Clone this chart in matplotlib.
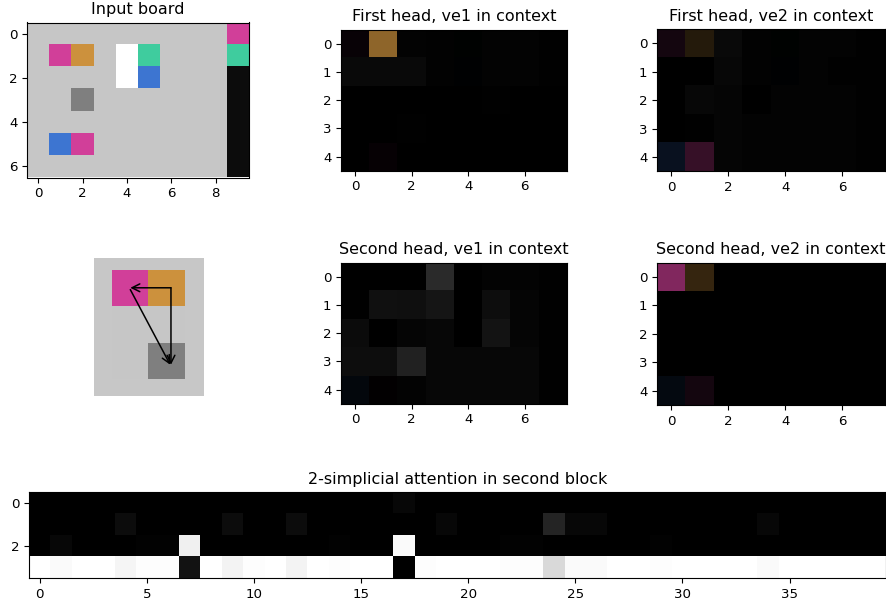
import matplotlib
matplotlib.use("Agg")
import matplotlib.pyplot as plt
import numpy as np

# board colours (index -> rgb)
palette = [
    (0.78, 0.78, 0.78),  # 0 background
    (0.82, 0.25, 0.60),  # 1 pink
    (0.80, 0.57, 0.24),  # 2 orange
    (0.25, 0.80, 0.62),  # 3 teal
    (0.24, 0.46, 0.82),  # 4 blue
    (0.50, 0.50, 0.50),  # 5 gray
    (1.00, 1.00, 1.00),  # 6 white
    (0.05, 0.05, 0.05),  # 7 black
]

board = [
    [0, 0, 0, 0, 0, 0, 0, 0, 0, 1],
    [0, 1, 2, 0, 6, 3, 0, 0, 0, 3],
    [0, 0, 0, 0, 6, 4, 0, 0, 0, 7],
    [0, 0, 5, 0, 0, 0, 0, 0, 0, 7],
    [0, 0, 0, 0, 0, 0, 0, 0, 0, 7],
    [0, 4, 1, 0, 0, 0, 0, 0, 0, 7],
    [0, 0, 0, 0, 0, 0, 0, 0, 0, 7],
]

# attention weights over board rows 1-5, cols 1-8
head1_ve1 = [
    [0.04, 0.70, 0.02, 0.01, 0.01, 0.02, 0.02, 0.01],
    [0.05, 0.05, 0.05, 0.01, 0.01, 0.02, 0.02, 0.01],
    [0.00, 0.00, 0.00, 0.00, 0.00, 0.01, 0.00, 0.00],
    [0.00, 0.00, 0.01, 0.00, 0.00, 0.00, 0.00, 0.00],
    [0.00, 0.03, 0.00, 0.00, 0.00, 0.00, 0.00, 0.00],
]
head1_ve2 = [
    [0.10, 0.18, 0.05, 0.01, 0.01, 0.02, 0.02, 0.01],
    [0.00, 0.00, 0.04, 0.01, 0.01, 0.02, 0.01, 0.01],
    [0.00, 0.06, 0.03, 0.00, 0.02, 0.02, 0.02, 0.01],
    [0.00, 0.01, 0.03, 0.02, 0.02, 0.02, 0.02, 0.01],
    [0.15, 0.26, 0.03, 0.02, 0.02, 0.02, 0.02, 0.01],
]
head2_ve1 = [
    [0.00, 0.00, 0.00, 0.165, 0.00, 0.02, 0.02, 0.01],
    [0.01, 0.085, 0.08, 0.085, 0.00, 0.07, 0.03, 0.01],
    [0.06, 0.00, 0.03, 0.04, 0.00, 0.10, 0.03, 0.01],
    [0.07, 0.07, 0.17, 0.04, 0.04, 0.04, 0.04, 0.01],
    [0.06, 0.01, 0.02, 0.04, 0.04, 0.04, 0.04, 0.01],
]
head2_ve2 = [
    [0.62, 0.26, 0.00, 0.00, 0.00, 0.00, 0.00, 0.00],
    [0.00, 0.00, 0.00, 0.00, 0.00, 0.00, 0.00, 0.00],
    [0.00, 0.00, 0.00, 0.00, 0.00, 0.00, 0.00, 0.00],
    [0.00, 0.00, 0.00, 0.00, 0.00, 0.00, 0.00, 0.00],
    [0.08, 0.10, 0.00, 0.00, 0.00, 0.00, 0.00, 0.00],
]
head_titles = ["First head, ve1 in context", "First head, ve2 in context",
               "Second head, ve1 in context", "Second head, ve2 in context"]

# 2-simplicial attention, 4 x 40
simp_row0 = [0]*17 + [0.03] + [0]*22
simp_row1 = [0, 0, 0, 0, 0.05, 0, 0, 0, 0, 0.05, 0, 0, 0.05, 0, 0, 0, 0, 0, 0, 0.03,
             0, 0, 0, 0, 0.14, 0.03, 0.03, 0, 0, 0, 0, 0, 0, 0, 0.03, 0, 0, 0, 0, 0]
simp_row2 = [0, 0.03, 0, 0, 0, 0.01, 0.01, 0.93, 0, 0, 0, 0, 0, 0, 0.01, 0, 0, 0.97, 0, 0,
             0, 0, 0.01, 0.01, 0, 0, 0, 0, 0, 0.01, 0, 0, 0, 0, 0, 0, 0, 0, 0, 0]
simp_row3 = [0.99, 0.97, 0.99, 0.99, 0.95, 0.98, 0.98, 0.07, 0.99, 0.94, 0.98, 0.99, 0.94, 0.99, 0.98, 0.99, 0.99, 0.00, 0.98, 0.99,
             0.99, 0.99, 0.98, 0.98, 0.84, 0.97, 0.97, 0.99, 0.99, 0.98, 0.99, 0.99, 0.99, 0.99, 0.97, 0.99, 0.99, 0.99, 0.99, 0.99]

# arrows in the little diagram (crop of board rows 1-3, cols 1-2)
arrow_from = [(1.12, 0.0), (1.12, 0.0), (0.0, 0.05)]
arrow_to = [(0.0, 0.0), (1.12, 2.12), (1.1, 2.12)]

plt.rcParams['font.size'] = 9.6

W, H = 886, 605
fig = plt.figure(figsize=(W/100, H/100), dpi=100)

def px_axes(x0, y0, x1, y1):
    return fig.add_axes([x0/W, 1 - y1/H, (x1-x0)/W, (y1-y0)/H])

pal = np.array(palette)
board_rgb = pal[np.array(board)]

ax = px_axes(26, 22.5, 250, 177.5)
ax.imshow(board_rgb)
ax.set_title("Input board", fontsize=11.5)
ax.set_xticks([0, 2, 4, 6, 8])
ax.set_yticks([0, 2, 4, 6])

crop = board_rgb[1:6, 1:9]
heads = [head1_ve1, head1_ve2, head2_ve1, head2_ve2]
boxes = [(341, 29.5, 567, 170.75), (657, 29, 885, 171.5),
         (341, 262.5, 567, 403.75), (657, 262.5, 885, 405)]
for w, t, b in zip(heads, head_titles, boxes):
    ax = px_axes(*b)
    img = np.clip(np.array(w)[:, :, None] * crop, 0, 1)
    ax.imshow(img)
    ax.set_title(t, fontsize=11.5)
    ax.set_xticks([0, 2, 4, 6])
    ax.set_yticks([0, 1, 2, 3, 4])

# diagram
ax = px_axes(94, 258, 204, 396)
ax.imshow(board_rgb[1:4, 1:3])
ax.set_facecolor(palette[0])
ax.set_xlim(-1.0, 2.03)
ax.set_ylim(2.97, -0.81)
ax.set_xticks([])
ax.set_yticks([])
for s in ax.spines.values():
    s.set_visible(False)
for a, b in zip(arrow_from, arrow_to):
    ax.annotate("", xy=b, xytext=a,
                arrowprops=dict(arrowstyle="->", color="black", lw=1.1,
                                shrinkA=0, shrinkB=0, mutation_scale=14))

# bottom attention
simp = np.array([simp_row0, simp_row1, simp_row2, simp_row3])
ax = px_axes(29, 492, 886, 578)
ax.imshow(simp, cmap="gray")
ax.set_title("2-simplicial attention in second block", fontsize=11.5)
ax.set_xticks([0, 5, 10, 15, 20, 25, 30, 35])
ax.set_yticks([0, 2])

fig.savefig("out.png", dpi=100)
